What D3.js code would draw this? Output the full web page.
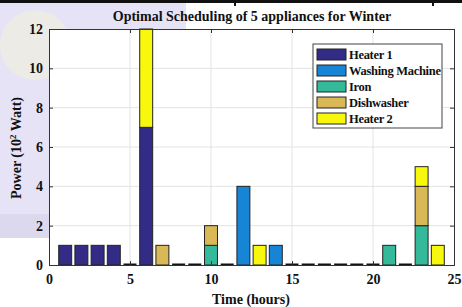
<!DOCTYPE html>
<html>
<head>
<meta charset="utf-8">
<script src="https://cdn.jsdelivr.net/npm/d3@7"></script>
<style>
  body { margin: 0; background: #fff; }
  text { font-family: "Liberation Serif", "Times New Roman", serif; fill: #111; }
</style>
</head>
<body>
<svg id="chart" width="462" height="307"></svg>
<script>
const hours = d3.range(1, 25);
const series = ["Heater 1", "Washing Machine", "Iron", "Dishwasher", "Heater 2"];
const colors = ["#332c87", "#1685d6", "#35b99b", "#d9b856", "#f8f80f"];
// power per hour (10^2 W), hours 1..24
const heater1  = [1,1,1,1,0,7,0,0,0,0,0,0,0,0,0,0,0,0,0,0,0,0,0,0];
const washing  = [0,0,0,0,0,0,0,0,0,0,0,4,0,1,0,0,0,0,0,0,0,0,0,0];
const iron     = [0,0,0,0,0,0,0,0,0,1,0,0,0,0,0,0,0,0,0,0,1,0,2,0];
const dishwash = [0,0,0,0,0,0,1,0,0,1,0,0,0,0,0,0,0,0,0,0,0,0,2,0];
const heater2  = [0,0,0,0,0,5,0,0,0,0,0,0,1,0,0,0,0,0,0,0,0,0,1,1];
const xTicks = [0, 5, 10, 15, 20, 25];
const yTicks = [0, 2, 4, 6, 8, 10, 12];

const svg = d3.select("#chart");
const margin = { top: 29, right: 8, bottom: 42, left: 49 };
const width = 462 - margin.left - margin.right;
const height = 307 - margin.top - margin.bottom;

// faint watermark behind the axes
const bg = svg.append("g");
bg.append("rect").attr("x", 0).attr("y", 0).attr("width", 186).attr("height", 238).attr("fill", "#e6e3f7");
bg.append("ellipse").attr("cx", 35).attr("cy", 45).attr("rx", 35).attr("ry", 35).attr("fill", "#f2f0d8").attr("opacity", 0.6);
bg.append("rect").attr("x", 0).attr("y", 214).attr("width", 50).attr("height", 24).attr("fill", "#dcd9ef");

// top border line from the source document
svg.append("rect").attr("x", 0).attr("y", 0).attr("width", 462).attr("height", 3).attr("fill", "#111");
svg.append("rect").attr("x", 234).attr("y", 0).attr("width", 2).attr("height", 6).attr("fill", "#111");
svg.append("rect").attr("x", 432).attr("y", 0).attr("width", 2).attr("height", 6).attr("fill", "#111");

const g = svg.append("g").attr("transform", `translate(${margin.left},${margin.top})`);

const x = d3.scaleLinear().domain([0, 25]).range([0, width]);
const y = d3.scaleLinear().domain([0, 12]).range([height, 0]);

g.append("rect").attr("width", width).attr("height", height).attr("fill", "#fff");

// grid
g.append("g").selectAll("line").data(xTicks.slice(1, -1)).enter().append("line")
  .attr("x1", d => x(d)).attr("x2", d => x(d)).attr("y1", 0).attr("y2", height)
  .attr("stroke", "#e3e3e3");
g.append("g").selectAll("line").data(yTicks.slice(1, -1)).enter().append("line")
  .attr("y1", d => y(d)).attr("y2", d => y(d)).attr("x1", 0).attr("x2", width)
  .attr("stroke", "#e3e3e3");

// stacked bars
const table = hours.map((h, i) => ({
  hour: h,
  "Heater 1": heater1[i], "Washing Machine": washing[i], "Iron": iron[i],
  "Dishwasher": dishwash[i], "Heater 2": heater2[i]
}));
const stacked = d3.stack().keys(series)(table);
const bw = x(0.8) - x(0);

stacked.forEach((layer, k) => {
  g.append("g").selectAll("rect").data(layer.filter(d => d[1] > d[0])).enter().append("rect")
    .attr("x", d => x(d.data.hour) - bw / 2)
    .attr("y", d => y(d[1]))
    .attr("width", bw)
    .attr("height", d => y(d[0]) - y(d[1]))
    .attr("fill", colors[k])
    .attr("stroke", "#222")
    .attr("stroke-width", 1);
});

// zero-height bars show up as a flat edge on the baseline
g.append("g").selectAll("line")
  .data(table.filter(d => series.every(s => d[s] === 0))).enter().append("line")
  .attr("x1", d => x(d.hour) - bw / 2).attr("x2", d => x(d.hour) + bw / 2)
  .attr("y1", y(0) - 0.5).attr("y2", y(0) - 0.5)
  .attr("stroke", "#111").attr("stroke-width", 2);

// axes
g.append("g").attr("transform", `translate(0,${height})`)
  .call(d3.axisBottom(x).tickValues(xTicks).tickSize(-4).tickPadding(9));
g.append("g")
  .call(d3.axisLeft(y).tickValues(yTicks).tickSize(-4).tickPadding(6));
g.append("g").call(d3.axisTop(x).tickValues(xTicks).tickSize(-4).tickFormat(""));
g.append("g").attr("transform", `translate(${width},0)`)
  .call(d3.axisRight(y).tickValues(yTicks).tickSize(-4).tickFormat(""));
g.selectAll(".domain").attr("stroke", "#333");
g.selectAll(".tick line").attr("stroke", "#333");
g.selectAll(".tick text").style("font-family", "Liberation Serif, serif")
  .style("font-size", "14px").style("font-weight", "bold").attr("fill", "#111");

// title and labels
svg.append("text").attr("x", 252).attr("y", 21).attr("text-anchor", "middle")
  .style("font-size", "14px").style("font-weight", "bold").text("Optimal Scheduling of 5 appliances for Winter");
svg.append("text").attr("x", 251).attr("y", 304).attr("text-anchor", "middle")
  .style("font-size", "14px").style("font-weight", "bold").text("Time (hours)");
const yl = svg.append("text").attr("transform", `translate(21,${margin.top + height / 2 + 1}) rotate(-90)`)
  .attr("text-anchor", "middle").style("font-size", "14px").style("font-weight", "bold");
yl.append("tspan").text("Power (10");
yl.append("tspan").attr("dy", -5).style("font-size", "9px").text("2");
yl.append("tspan").attr("dy", 5).text(" Watt)");

// legend
const lg = svg.append("g").attr("transform", "translate(313,44)");
lg.append("rect").attr("width", 129).attr("height", 84).attr("fill", "#fff").attr("stroke", "#444");
series.forEach((s, i) => {
  const row = lg.append("g").attr("transform", `translate(4,${5 + i * 16})`);
  row.append("rect").attr("width", 29).attr("height", 11).attr("fill", colors[i]).attr("stroke", "#222");
  row.append("text").attr("x", 32).attr("y", 10).style("font-size", "12.5px")
    .style("font-weight", "bold").style("letter-spacing", "-0.3px").text(s);
});
</script>
</body>
</html>
